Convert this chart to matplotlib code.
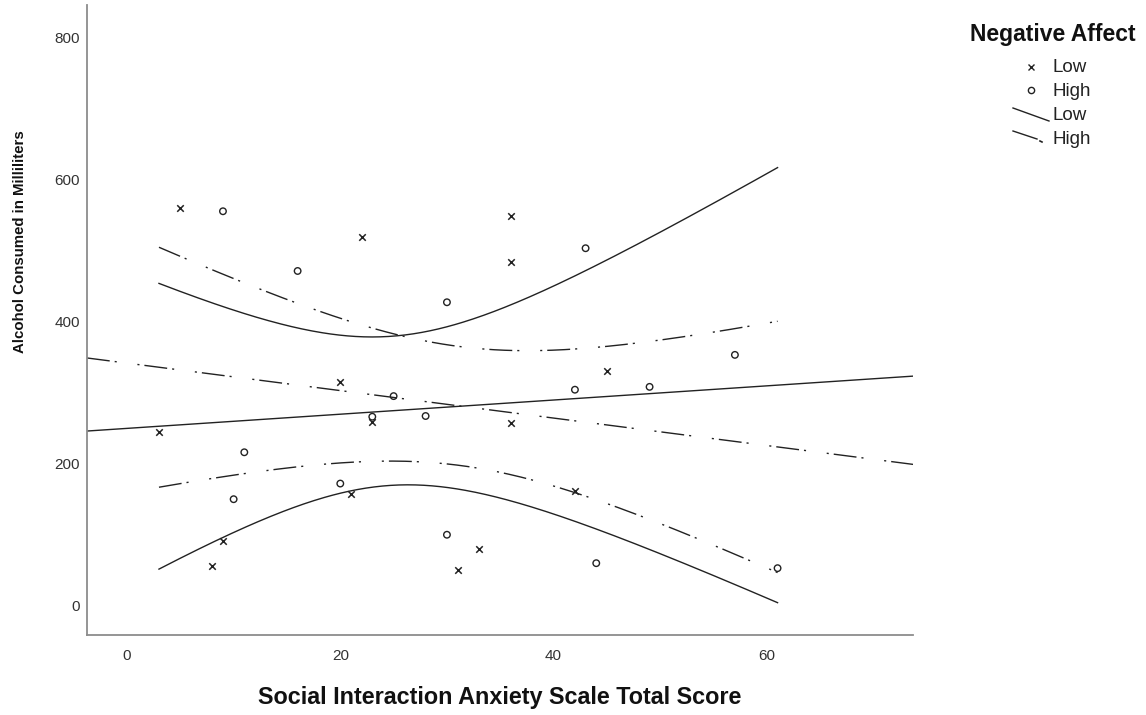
import matplotlib
matplotlib.use('Agg')
import matplotlib.pyplot as plt
from matplotlib.lines import Line2D
import numpy as np

# Puntos (SIAS total, alcohol en ml)
low_x = [3, 5, 8, 9, 20, 21, 22, 23, 31, 33, 36, 36, 36, 42, 45]
low_y = [244, 559, 56, 91, 315, 158, 519, 259, 50, 80, 549, 483, 257, 162, 331]

high_x = [9, 10, 11, 16, 20, 23, 25, 28, 30, 30, 42, 43, 44, 49, 57, 61]
high_y = [555, 150, 216, 471, 172, 266, 295, 267, 427, 100, 304, 503, 60, 308, 353, 53]

x_ticks = [0, 20, 40, 60]
y_ticks = [0, 200, 400, 600, 800]

# valores t al 95% (gl = n - 2)
t_crit = {13: 2.1604, 14: 2.1448}

dashdot = (0, (16.5, 3.6, 1.5, 15, 1.5, 3.6))
ink = '#222222'


def ajuste(x, y, xs):
    """Recta de minimos cuadrados e intervalo de confianza de la media."""
    x = np.asarray(x, float)
    y = np.asarray(y, float)
    n = len(x)
    b, a = np.polyfit(x, y, 1)
    resid = y - (a + b * x)
    s = np.sqrt(np.sum(resid ** 2) / (n - 2))
    sxx = np.sum((x - x.mean()) ** 2)
    fit = a + b * xs
    half = t_crit[n - 2] * s * np.sqrt(1 / n + (xs - x.mean()) ** 2 / sxx)
    return a, b, fit - half, fit + half


fig = plt.figure(figsize=(11.46, 7.15), dpi=100)
ax = fig.add_axes([0.0759, 0.1119, 0.7208, 0.881])

xlim = (-3.75, 73.7)
ylim = (-41, 845)
ax.set_xlim(xlim)
ax.set_ylim(ylim)

x_min = min(min(low_x), min(high_x))
x_max = max(max(low_x), max(high_x))
xs = np.linspace(x_min, x_max, 300)
xl = np.array(xlim)

# Grupo Low: linea continua
a, b, lo, hi = ajuste(low_x, low_y, xs)
ax.plot(xl, a + b * xl, color=ink, lw=1.0)
ax.plot(xs, lo, color=ink, lw=1.0)
ax.plot(xs, hi, color=ink, lw=1.0)

# Grupo High: linea punto-raya
a, b, lo, hi = ajuste(high_x, high_y, xs)
ax.plot(xl, a + b * xl, color=ink, lw=1.0, linestyle=dashdot)
ax.plot(xs, lo, color=ink, lw=1.0, linestyle=dashdot)
ax.plot(xs, hi, color=ink, lw=1.0, linestyle=dashdot)

ax.scatter(low_x, low_y, marker='x', s=22, color=ink, linewidths=1.1, zorder=5)
ax.scatter(high_x, high_y, marker='o', s=22, facecolors='none', edgecolors=ink,
           linewidths=1.0, zorder=5)

# Estetica tipo SPSS
for side in ['top', 'right']:
    ax.spines[side].set_visible(False)
for side in ['left', 'bottom']:
    ax.spines[side].set_color('#8c8c8c')
    ax.spines[side].set_linewidth(1.3)
ax.set_xticks(x_ticks)
ax.set_yticks(y_ticks)
ax.tick_params(length=0, labelsize=11, labelcolor='#333333')
ax.xaxis.set_tick_params(pad=10)
ax.yaxis.set_tick_params(pad=5)
for lab in ax.get_xticklabels() + ax.get_yticklabels():
    lab.set_family('Liberation Sans')

ax.set_xlabel('Social Interaction Anxiety Scale Total Score', fontsize=16.8,
              fontweight='bold', family='Liberation Sans', color='#111111')
ax.xaxis.set_label_coords(0.5, -0.1)
ax.xaxis.label.set_va('center')
ax.set_ylabel('Alcohol Consumed in Milliliters', fontsize=10.8, fontweight='bold',
              family='Liberation Sans', color='#111111')
ax.yaxis.set_label_coords(-0.0811, 0.624)
ax.yaxis.label.set_va('center')

# Leyenda dibujada a mano (simbolos de linea inclinados)
W, H = 1146, 715


def fx(px):
    return px / W


def fy(py):
    return 1 - py / H


fig.text(fx(970), fy(34), 'Negative Affect', fontsize=16.5, fontweight='bold',
         family='Liberation Sans', va='center', ha='left', color='#111111')
fig.add_artist(Line2D([fx(1031)], [fy(67)], marker='x', markersize=5, color=ink,
                      markeredgewidth=1.0, linestyle='none'))
fig.add_artist(Line2D([fx(1031)], [fy(90)], marker='o', markersize=4.5, color=ink,
                      markerfacecolor='none', markeredgewidth=1.0, linestyle='none'))
fig.add_artist(Line2D([fx(1013), fx(1049)], [fy(108), fy(121)], color=ink, lw=1.0))
fig.add_artist(Line2D([fx(1013), fx(1037)], [fy(131), fy(139)], color=ink, lw=1.0))
fig.add_artist(Line2D([fx(1040), fx(1042)], [fy(141), fy(142)], color=ink, lw=1.2))
for txt, py in [('Low', 68), ('High', 92), ('Low', 115), ('High', 139)]:
    fig.text(fx(1053), fy(py), txt, fontsize=13.5, family='Liberation Sans',
             va='center', ha='left', color='#222222')

fig.savefig('out.png', dpi=100)
